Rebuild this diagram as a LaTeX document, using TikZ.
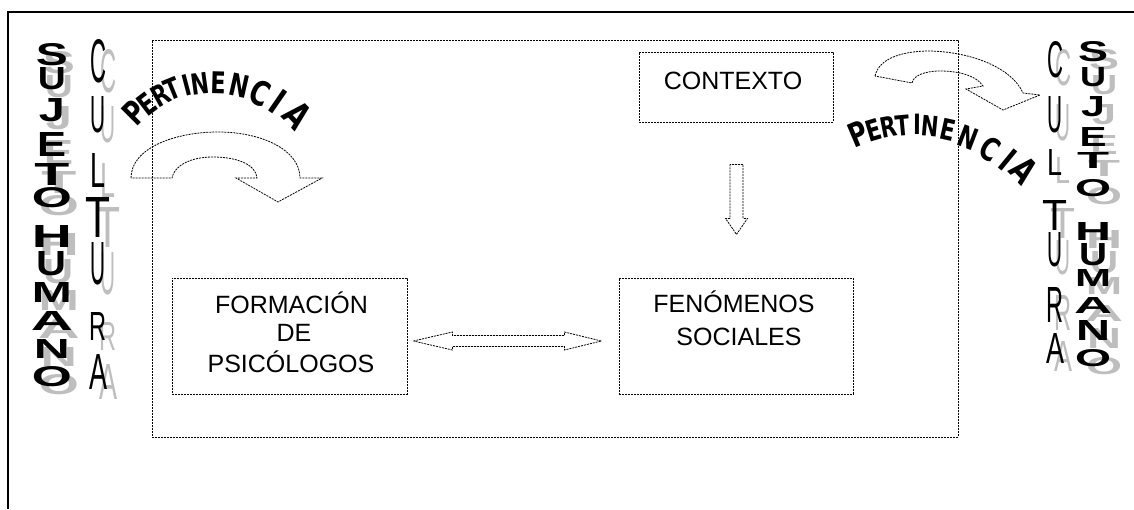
\documentclass[tikz,border=0pt]{standalone}
\usepackage{fontspec}
\setmainfont{Liberation Sans}
\newfontfamily\archfont{DejaVu Sans}
\usepackage{graphicx}
\usetikzlibrary{calc}
\definecolor{shadowgray}{RGB}{190,190,190}
\newcommand\wideletter[3]{\resizebox{#2pt}{#3pt}{\bfseries #1}}
\newcommand\tallletter[3]{\resizebox{#2pt}{#3pt}{#1}}
\begin{document}
\begin{tikzpicture}[x=1pt,y=-1pt,
  dl/.style={draw, line width=0.8pt, dash pattern=on 2pt off 1pt},
  box/.style={dl, rectangle, inner sep=0pt},
  lbl/.style={font=\fontsize{25}{30}\selectfont, inner sep=0pt, anchor=base},
  arch/.style={inner sep=0pt},
  wl/.style={inner sep=0pt}]
\useasboundingbox (0,0) rectangle (1134,509);
% outer frame
\draw[line width=1.5pt] (8,509) -- (8,12) -- (1134,12);
% inner dashed frame
\node[box, minimum width=806, minimum height=397] (frame) at (555,238.5) {};
% boxes
\node[box, minimum width=194, minimum height=70] (ctx) at (736,87) {};
\node[box, minimum width=235, minimum height=116] (form) at (289.5,336) {};
\node[box, minimum width=234, minimum height=116] (fen) at (736,336) {};
% texts
\node[lbl] (ctxt) at (733,89) {CONTEXTO};
\node[lbl] (f1) at (291.5,313) {FORMACIÓN};
\node[lbl] (f2) at (294,341) {DE};
\node[lbl] (f3) at (291,372) {PSICÓLOGOS};
\node[lbl] (s1) at (734,312) {FENÓMENOS};
\node[lbl] (s2) at (739,345) {SOCIALES};
% down arrow
\coordinate (da) at ($(ctx.south)+(0.5,42)$);
\draw[dl] ($(da)+(-6.5,0)$) -- ++(0,54) -- ++(-4.5,0) -- ++(11,16) -- ++(11,-16) -- ++(-4.5,0) -- ++(0,-54) -- cycle;
% double arrow
\coordinate (dal) at ($(form.east)+(6,5)$);
\draw[dl] (dal) -- ++(39,-9) -- ++(0,3.5) -- ++(112,0) -- ++(0,-3.5) -- ++(37,9) -- ++(-37,9) -- ++(0,-3.5) -- ++(-112,0) -- ++(0,3.5) -- cycle;
% left curved arrow
\draw[dl] (131,178) .. controls (131,148) and (175,132) .. (218,132)
  .. controls (262,132) and (300,150) .. (300,178) -- (322,178) -- (278,202) -- (236,178) -- (257,178)
  .. controls (256,165) and (238,157) .. (213,157) .. controls (190,157) and (174,166) .. (172,178) -- cycle;
% right curved arrow
\draw[dl] (875,76) .. controls (879,58) and (903,51) .. (930,51)
  .. controls (972,52) and (1012,68) .. (1023,93) -- (1040,95) -- (1003,110) -- (966,89) -- (983,86)
  .. controls (976,75) and (957,71) .. (940,71) .. controls (924,71) and (913,76) .. (912,83) -- cycle;
% PERTINENCIA left
\coordinate (lc) at (215,193);
\foreach \ch/\a/\s/\r [count=\i] in {P/135/33/114,E/127.4/30/112,R/119.3/29/112,T/112.3/29/112,I/104.7/29/111,N/97.8/29/110,E/88.4/30/110,N/77.2/31/110,C/65.6/34/110,I/55.4/36/111,A/43.2/37/114}
  \node[arch, font=\archfont\bfseries\fontsize{\s}{\s}\selectfont, rotate=\a-90] (lp\i) at ($(lc)+({\r*cos(\a)},{-\r*sin(\a)})$) {\scalebox{0.75}[1]{\ch}};
% PERTINENCIA right
\coordinate (rc) at (916.5,271.6);
\foreach \ch/\a/\s/\r [count=\i] in {P/112.9/33/150,E/106.7/29/148,R/101.1/28/147,T/95.3/28/147,I/89.8/28/147,N/84.7/28/146,E/77.5/29/145,N/69/30/144,C/58.9/32/143,I/50.6/34/144,A/43.1/36/148}
  \node[arch, font=\archfont\bfseries\fontsize{\s}{\s}\selectfont, rotate=\a-90] (rp\i) at ($(rc)+({\r*cos(\a)},{-\r*sin(\a)})$) {\scalebox{0.75}[1]{\ch}};
% SUJETO HUMANO left
\foreach \ch/\y/\w/\h [count=\i] in {S/55/32/22,U/79/28/22,J/110/26/23,E/144/29/24,T/174/35/22,O/198/40/20,H/236/40/22,U/264/30/24,M/292/40/20,A/321/42/19,N/349/36/19,O/377/40/20}{
  \node[wl, text=shadowgray] (lsg\i) at (59,\y+8) {\wideletter{\ch}{\w}{\h}};
  \node[wl] (ls\i) at (52,\y) {\wideletter{\ch}{\w}{\h}};
}
% CULTURA left
\foreach \ch/\y/\w/\h [count=\i] in {C/61.5/16/43,U/115/15/36,L/170/15/34,T/217/25/40,U/264/15/42,R/326/17/28,A/372/18/35}{
  \node[wl, text=shadowgray] (lcg\i) at (108,\y+10) {\tallletter{\ch}{\w}{\h}};
  \node[wl] (lcu\i) at (98,\y) {\tallletter{\ch}{\w}{\h}};
}
% CULTURA right
\foreach \ch/\y/\w/\h [count=\i] in {C/60/16/36,U/115/15/36,L/162/15/26,T/215/25/30,U/250/15/34,R/305/17/35,A/348/18/30}{
  \node[wl, text=shadowgray] (rcg\i) at (1063,\y+8) {\tallletter{\ch}{\w}{\h}};
  \node[wl] (rcu\i) at (1055,\y) {\tallletter{\ch}{\w}{\h}};
}
% SUJETO HUMANO right
\foreach \ch/\y/\w/\h [count=\i] in {S/52/30/20,U/77/26/19,J/107/24/20,E/137/27/19,T/160/32/16,O/188/36/17,H/231/36/18,U/255/28/22,M/278/36/17,A/305/38/16,N/330/34/20,O/358/36/17}{
  \node[wl, text=shadowgray] (rsg\i) at (1104,\y+8) {\wideletter{\ch}{\w}{\h}};
  \node[wl] (rs\i) at (1093,\y) {\wideletter{\ch}{\w}{\h}};
}
\end{tikzpicture}
\end{document}
